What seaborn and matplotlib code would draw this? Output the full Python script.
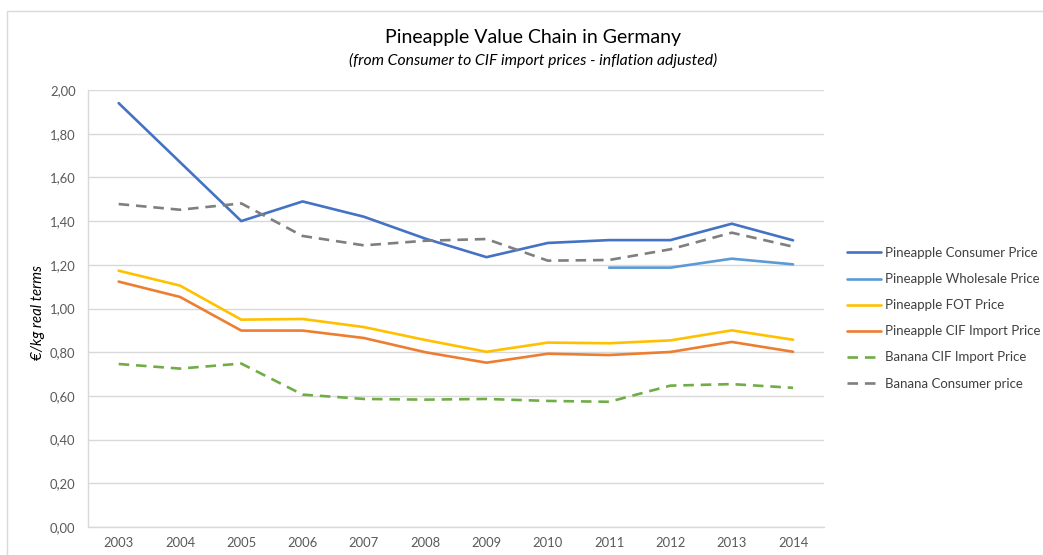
import matplotlib
matplotlib.use("Agg")
import matplotlib.pyplot as plt
import matplotlib.ticker as mticker
from matplotlib.lines import Line2D
from matplotlib.patches import Rectangle
import numpy as np
import pandas as pd
import seaborn as sns

years = [2003, 2004, 2005, 2006, 2007, 2008, 2009, 2010, 2011, 2012, 2013, 2014]
pine_consumer = [1.94, 1.67, 1.40, 1.49, 1.42, 1.32, 1.235, 1.30, 1.313, 1.313, 1.388, 1.312]
pine_wholesale = [None, None, None, None, None, None, None, None, 1.187, 1.187, 1.228, 1.202]
pine_fot = [1.173, 1.105, 0.949, 0.952, 0.915, 0.856, 0.802, 0.844, 0.841, 0.854, 0.900, 0.857]
pine_cif = [1.123, 1.053, 0.899, 0.899, 0.865, 0.800, 0.752, 0.793, 0.787, 0.801, 0.847, 0.802]
banana_cif = [0.746, 0.725, 0.748, 0.606, 0.586, 0.583, 0.586, 0.577, 0.573, 0.647, 0.654, 0.637]
banana_consumer = [1.478, 1.452, 1.481, 1.332, 1.289, 1.310, 1.318, 1.219, 1.222, 1.271, 1.347, 1.283]

series_names = ["Pineapple Consumer Price", "Pineapple Wholesale Price", "Pineapple FOT Price",
                "Pineapple CIF Import Price", "Banana CIF Import Price", "Banana Consumer price"]
series_values = [pine_consumer, pine_wholesale, pine_fot, pine_cif, banana_cif, banana_consumer]
colors = ["#4472C4", "#5B9BD5", "#FFC000", "#ED7D31", "#70AD47", "#7F7F7F"]
dashed = [False, False, False, False, True, True]

title = "Pineapple Value Chain in Germany"
subtitle = "(from Consumer to CIF import prices - inflation adjusted)"
ylabel = "€/kg real terms"

sns.set_theme(style="white")
plt.rcParams['font.family'] = ['Lato', 'DejaVu Sans']

W, H = 1043, 555
fig = plt.figure(figsize=(W / 100, H / 100), dpi=100)
ax = fig.add_axes([88 / W, (H - 527) / H, (823.7 - 88) / W, (527 - 90) / H])

pos = list(range(len(years)))
handles = []
for name, vals, col, dsh in zip(series_names, series_values, colors, dashed):
    df = pd.DataFrame({"x": pos, "y": [np.nan if v is None else v for v in vals]}).dropna()
    ls = (0, (4, 2.6)) if dsh else "-"
    sns.lineplot(data=df, x="x", y="y", ax=ax, color=col, linewidth=1.9, linestyle=ls, legend=False)
    handles.append(Line2D([0], [0], color=col, linewidth=1.9, linestyle=ls))

ax.set_xlim(-0.5, len(years) - 0.5)
ax.set_ylim(0, 2.0)
ax.set_xticks(pos)
ax.set_xticklabels([str(y) for y in years])
ax.set_yticks(np.arange(0, 2.01, 0.2))
ax.yaxis.set_major_formatter(mticker.FuncFormatter(lambda v, p: f"{v:.2f}".replace(".", ",")))
ax.tick_params(axis="both", length=0, labelsize=9.4, colors="#595959")
ax.tick_params(axis="x", pad=7)
ax.tick_params(axis="y", pad=9)
ax.grid(axis="y", color="#D9D9D9", linewidth=1.0)
ax.set_axisbelow(True)
for s in ["top", "right"]:
    ax.spines[s].set_visible(False)
ax.spines["left"].set_color("#D9D9D9")
ax.spines["bottom"].set_color("#D9D9D9")
ax.spines["left"].set_linewidth(1.0)
ax.spines["bottom"].set_linewidth(1.0)
ax.set_xlabel("")
ax.set_ylabel("")

fig.text(38 / W, 1 - 312 / H, ylabel, rotation=90, ha="center", va="center",
         fontsize=10.8, style="italic", color="#000000")
fig.text(533 / W, 1 - 37 / H, title, ha="center", va="center", fontsize=14, color="#000000")
fig.text(533 / W, 1 - 60 / H, subtitle, ha="center", va="center", fontsize=11.3, style="italic",
         color="#000000")

leg = fig.legend(handles, series_names, loc="upper left",
                 bbox_to_anchor=(847 / W, 1 - 247 / H), frameon=False,
                 fontsize=9.5, handlelength=2.6, handletextpad=0.3, labelspacing=1.07,
                 borderaxespad=0, borderpad=0)
for t in leg.get_texts():
    t.set_color("#404040")

fig.patches.append(Rectangle((7 / W, -0.1), 1.2, (1 - 11 / H) + 0.1, transform=fig.transFigure,
                             fill=False, edgecolor="#D9D9D9", linewidth=1.0))

fig.savefig("out.png", dpi=100)
